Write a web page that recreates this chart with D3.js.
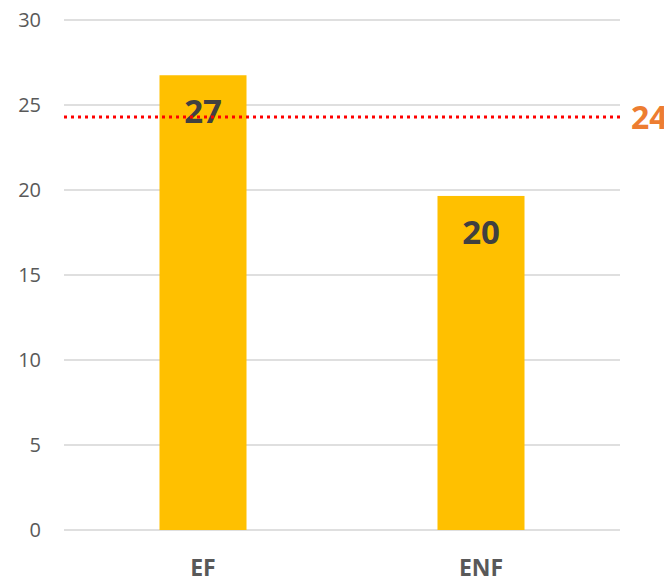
<!DOCTYPE html>
<html>
<head>
<meta charset="utf-8">
<script src="https://cdn.jsdelivr.net/npm/d3@7"></script>
<style>
  body { margin: 0; background: #fff; }
  svg text { font-family: "Open Sans", "Liberation Sans", sans-serif; }
</style>
</head>
<body>
<div id="chart"></div>
<script>
// data
var categories = ["EF", "ENF"];
var values = [26.75, 19.65];
var referenceValue = 24.3;
var yTicks = [0, 5, 10, 15, 20, 25, 30];

var width = 664, height = 582;
var margin = {top: 20, right: 44, bottom: 52, left: 64};
var innerW = width - margin.left - margin.right,
    innerH = height - margin.top - margin.bottom;

var svg = d3.select("#chart")
  .append("svg")
    .attr("width", width)
    .attr("height", height)
  .append("g")
    .attr("transform", "translate(" + margin.left + "," + margin.top + ")");

//y-axis
var y = d3.scaleLinear()
  .domain([0, 30])
  .range([innerH, 0]);

//x-axis
var x = d3.scaleBand()
  .domain(categories)
  .range([0, innerW])
  .paddingInner(0.687)
  .paddingOuter(0.3435);

// gridlines
svg.append("g")
  .selectAll("line")
  .data(yTicks)
  .enter()
  .append("line")
    .attr("x1", 0)
    .attr("x2", innerW)
    .attr("y1", function(d) { return y(d); })
    .attr("y2", function(d) { return y(d); })
    .attr("stroke", "#d4d4d4")
    .attr("stroke-width", 1.5);

var yAxis = svg.append("g")
  .call(d3.axisLeft(y).tickValues(yTicks).tickSize(0).tickPadding(23));
yAxis.select(".domain").remove();
yAxis.selectAll("text")
  .attr("fill", "#595959")
  .style("font-size", "20px");

//bars
var bars = svg.selectAll("myRect")
  .data(values)
  .enter()
  .append("g");

bars.append("rect")
  .attr("x", function(d, i) { return x(categories[i]); })
  .attr("y", function(d) { return y(d); })
  .attr("width", x.bandwidth())
  .attr("height", function(d) { return y(0) - y(d); })
  .attr("fill", "#ffc000");

// reference line
svg.append("line")
  .attr("x1", 0)
  .attr("x2", innerW)
  .attr("y1", y(referenceValue))
  .attr("y2", y(referenceValue))
  .attr("stroke", "#ff0000")
  .attr("stroke-width", 3)
  .attr("stroke-dasharray", "3,4");

// reference label (runs past the right edge, as in the original)
svg.append("text")
  .attr("x", innerW + 11)
  .attr("y", y(referenceValue) + 12)
  .attr("fill", "#ed7d31")
  .style("font-size", "32px")
  .style("font-weight", "bold")
  .text(Math.round(referenceValue));

// value labels
bars.append("text")
  .attr("x", function(d, i) { return x(categories[i]) + x.bandwidth() / 2; })
  .attr("y", function(d) { return y(d) + 48; })
  .attr("text-anchor", "middle")
  .attr("fill", "#404040")
  .style("font-size", "33px")
  .style("font-weight", "bold")
  .text(function(d) { return Math.round(d); });

// category labels
svg.append("g")
  .selectAll("text")
  .data(categories)
  .enter()
  .append("text")
    .attr("x", function(d) { return x(d) + x.bandwidth() / 2; })
    .attr("y", innerH + 46)
    .attr("text-anchor", "middle")
    .attr("fill", "#595959")
    .style("font-size", "23px")
    .style("font-weight", "bold")
    .text(function(d) { return d; });
</script>
</body>
</html>
